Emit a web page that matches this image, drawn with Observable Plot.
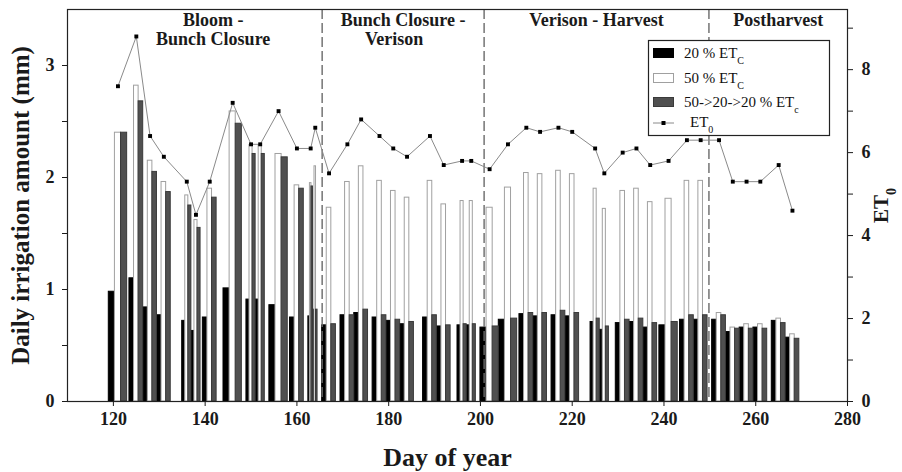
<!DOCTYPE html>
<html>
<head>
<meta charset="utf-8">
<script src="https://cdn.jsdelivr.net/npm/d3@7"></script>
<script src="https://cdn.jsdelivr.net/npm/@observablehq/plot@0.6"></script>
<style>
  body { margin: 0; background: #fff; }
  #chart { width: 902px; height: 472px; }
</style>
</head>
<body>
<div id="chart"></div>
<script>
// ---- Data ----
const days = [121,125,128,131,136,138,141,146,150,152,156,160,163,164,167,171,174,178,181,184,189,192,196,198,202,206,210,213,217,220,225,227,231,234,237,241,245,248,252,255,258,261,265,268];
const et20 = [0.98,1.10,0.84,0.77,0.72,0.63,0.75,1.01,0.91,0.91,0.86,0.75,0.76,0.82,0.68,0.77,0.79,0.75,0.72,0.69,0.75,0.67,0.68,0.68,0.66,0.73,0.78,0.76,0.77,0.76,0.71,0.64,0.70,0.71,0.66,0.68,0.73,0.73,0.73,0.62,0.66,0.66,0.72,0.57];
const et50 = [2.40,2.82,2.15,1.96,1.84,1.62,1.90,2.59,2.29,2.29,2.21,1.93,1.95,2.10,1.73,1.96,2.10,1.97,1.88,1.82,1.97,1.76,1.79,1.79,1.73,1.91,2.04,2.03,2.06,2.03,1.90,1.72,1.88,1.90,1.78,1.81,1.97,1.97,0.79,0.66,0.69,0.69,0.74,0.60];
const et502020 = [2.40,2.68,2.05,1.87,1.75,1.55,1.82,2.48,2.21,2.21,2.18,1.90,1.92,0.82,0.69,0.77,0.82,0.77,0.73,0.71,0.77,0.68,0.69,0.69,0.67,0.74,0.79,0.79,0.81,0.79,0.74,0.67,0.73,0.74,0.70,0.71,0.77,0.77,0.77,0.65,0.65,0.65,0.70,0.56];
const et0 = [7.6,8.8,6.4,5.9,5.3,4.5,5.3,7.2,6.2,6.2,7.0,6.1,6.1,6.6,5.5,6.2,6.8,6.4,6.1,5.9,6.4,5.7,5.8,5.8,5.6,6.2,6.6,6.5,6.6,6.5,6.1,5.5,6.0,6.1,5.7,5.8,6.3,6.3,6.3,5.3,5.3,5.3,5.7,4.6];

const phaseLabels = ["Bloom -\nBunch Closure", "Bunch Closure -\nVerison\u00a0\u00a0\u00a0\u00a0", "Verison - Harvest", "Postharvest"];
const phaseStarts = [118, 165.5, 200.8, 249.8];
const phaseEnds = [165.5, 200.8, 249.8, 280];

const xTicks = [120,140,160,180,200,220,240,260,280];
const yTicks = [0,1,2,3];
const yMinor = [0.5,1.5,2.5];
const y2Ticks = [0,2,4,6,8];
const y2Minor = [1,3,5,7,9];

const seriesNames = ["20 % ET", "50 % ET", "50->20->20 % ET"];
const seriesSubs = ["C", "C", "c"];
const seriesFill = ["#000000", "#ffffff", "#505050"];
const seriesStroke = ["#000000", "#a0a0a0", "#3a3a3a"];
const seriesValues = [et20, et50, et502020];

// ---- Derived tables ----
const yMax = 3.5, y2Max = 9.45;
const k = yMax / y2Max; // ET0 -> left-axis units

const groupW = days.map((d, i) => {
  const gaps = [];
  if (i > 0) gaps.push(d - days[i - 1]);
  if (i < days.length - 1) gaps.push(days[i + 1] - d);
  return Math.min(...gaps);
});

const bars = [];
seriesValues.forEach((vals, j) => {
  days.forEach((d, i) => {
    const w = groupW[i];
    bars.push({s: j, x1: d - w / 2 + j * w / 3, x2: d - w / 2 + (j + 1) * w / 3, v: vals[i]});
  });
});
const et0Rows = days.map((d, i) => ({day: d, v: et0[i] * k}));
const phases = phaseLabels.map((label, i) => ({label, mid: (phaseStarts[i] + phaseEnds[i]) / 2}));
const boundaries = phaseStarts.slice(1);

const serif = '"Liberation Serif", "Times New Roman", serif';

const plot = Plot.plot({
  width: 902,
  height: 472,
  marginLeft: 67,
  marginRight: 55,
  marginTop: 9,
  marginBottom: 71,
  style: {fontFamily: serif, fontSize: "18px", fontWeight: "bold", color: "#1a1a1a", background: "#fff"},
  x: {domain: [110, 280]},
  y: {domain: [0, yMax]},
  marks: [
    ...[0, 1, 2].map(j => Plot.rect(bars.filter(b => b.s === j), {
      x1: "x1", x2: "x2", y1: 0, y2: "v",
      fill: seriesFill[j], stroke: seriesStroke[j], strokeWidth: 1
    })),
    Plot.ruleX(boundaries, {stroke: "#6a6a6a", strokeWidth: 1.4, strokeDasharray: "10,4"}),
    Plot.line(et0Rows, {x: "day", y: "v", stroke: "#8a8a8a", strokeWidth: 1}),
    Plot.dot(et0Rows, {x: "day", y: "v", symbol: "square", r: 2.2, fill: "#000", stroke: "none"}),
    Plot.text(phases, {x: "mid", text: "label", frameAnchor: "top", lineAnchor: "top", dy: 3, lineHeight: 1.05, fontSize: 18, fontWeight: "bold"}),
    Plot.frame({stroke: "#222", strokeWidth: 1.2}),
    Plot.axisX({ticks: xTicks, tickSize: 5, tickPadding: 6, label: null, anchor: "bottom"}),
    Plot.axisY({ticks: yTicks, tickSize: 5, tickPadding: 8, tickFormat: d => String(d), label: null, anchor: "left"}),
    Plot.axisY(yMinor, {tickSize: 5, tickFormat: () => "", label: null, anchor: "left"}),
    Plot.axisY(y2Ticks.map(v => v * k), {tickSize: 5, tickPadding: 9, tickFormat: d => String(Math.round(d / k)), label: null, anchor: "right"}),
    Plot.axisY(y2Minor.map(v => v * k), {tickSize: 5, tickFormat: () => "", label: null, anchor: "right"}),
    Plot.text(["Daily irrigation amount (mm)"], {frameAnchor: "left", textAnchor: "middle", dx: -47, rotate: -90, lineAnchor: "middle", fontSize: 25, fontWeight: "bold"}),
    Plot.text(["Day of year"], {frameAnchor: "bottom", dx: -10, dy: 46, lineAnchor: "top", fontSize: 26, fontWeight: "bold"}),
    Plot.text(["ET"], {frameAnchor: "right", textAnchor: "middle", dx: 34, rotate: -90, lineAnchor: "middle", fontSize: 21, fontWeight: "bold"})
  ]
});

document.getElementById("chart").appendChild(plot);

// subscript on right axis title
const svg = d3.select(plot);
svg.selectAll("text").filter(function () { return this.textContent === "ET"; })
  .append("tspan").attr("baseline-shift", "sub").attr("font-size", 14).text("0");

// ---- Legend (inside plot area, top right) ----
const lg = svg.append("g").attr("transform", "translate(648,40)")
  .attr("font-family", serif).attr("font-weight", "normal").attr("font-size", 15)
  .attr("text-anchor", "start");
lg.append("rect").attr("x", 0.5).attr("y", 0.5).attr("width", 181).attr("height", 95)
  .attr("fill", "#fff").attr("stroke", "#222").attr("stroke-width", 1.2);
const rowBase = [18, 43, 67];
const rowSw = [8, 33, 57];
seriesNames.forEach((name, j) => {
  lg.append("rect").attr("x", 5.5).attr("y", rowSw[j] + 0.5).attr("width", 20).attr("height", 9)
    .attr("fill", seriesFill[j]).attr("stroke", seriesStroke[j]).attr("stroke-width", 1);
  const t = lg.append("text").attr("x", 36).attr("y", rowBase[j]).attr("fill", "#111")
    .attr("text-anchor", "start").text(name);
  t.append("tspan").attr("baseline-shift", "sub").attr("font-size", 10).text(seriesSubs[j]);
});
lg.append("line").attr("x1", 5).attr("x2", 26).attr("y1", 83).attr("y2", 83).attr("stroke", "#8a8a8a");
lg.append("rect").attr("x", 13.5).attr("y", 81).attr("width", 4).attr("height", 4).attr("fill", "#000");
const t4 = lg.append("text").attr("x", 42).attr("y", 87).attr("fill", "#111")
  .attr("text-anchor", "start").text("ET");
t4.append("tspan").attr("baseline-shift", "sub").attr("font-size", 10).text("0");
</script>
</body>
</html>
